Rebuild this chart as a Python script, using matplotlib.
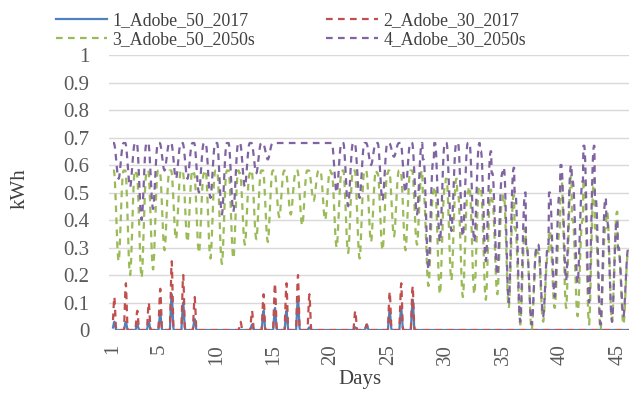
import numpy as np
import matplotlib
matplotlib.use('Agg')
import matplotlib.pyplot as plt

plt.rcParams['font.family'] = ['Liberation Serif', 'DejaVu Serif']

# daily levels read per day (45 days, hourly values built from these)
days = np.arange(1, 46)

# 2017 cases: daily heating peak (kWh), zero outside the morning spike
peak_50_2017 = [0.03, 0.03, 0.02, 0.03, 0.06, 0.13, 0.10, 0.04, 0, 0,
                0, 0, 0.02, 0.07, 0.08, 0.07, 0.12, 0.01, 0, 0,
                0, 0.01, 0.02, 0, 0.07, 0.08, 0.11, 0, 0, 0,
                0, 0, 0, 0, 0, 0, 0, 0, 0, 0,
                0, 0, 0, 0, 0]
peak_30_2017 = [0.12, 0.17, 0.07, 0.10, 0.15, 0.25, 0.20, 0.12, 0, 0,
                0, 0.03, 0.07, 0.13, 0.17, 0.17, 0.20, 0.13, 0, 0,
                0, 0.07, 0.02, 0, 0.14, 0.17, 0.16, 0, 0, 0,
                0, 0, 0, 0, 0, 0, 0, 0, 0, 0,
                0, 0, 0, 0, 0]

# 2050s cases: daily max / min (kWh)
max_50_2050 = [0.58, 0.58, 0.57, 0.58, 0.58, 0.58, 0.58, 0.57, 0.58, 0.58,
               0.58, 0.57, 0.58, 0.58, 0.58, 0.57, 0.58, 0.58, 0.58, 0.57,
               0.58, 0.58, 0.58, 0.57, 0.58, 0.58, 0.58, 0.50, 0.52, 0.55,
               0.50, 0.52, 0.51, 0.47, 0.49, 0.37, 0.30, 0.28, 0.36, 0.56,
               0.40, 0.55, 0.37, 0.43, 0.29]
min_50_2050 = [0.25, 0.20, 0.19, 0.22, 0.29, 0.33, 0.32, 0.28, 0.26, 0.24,
               0.26, 0.31, 0.33, 0.32, 0.41, 0.42, 0.38, 0.47, 0.40, 0.30,
               0.28, 0.26, 0.32, 0.29, 0.34, 0.29, 0.31, 0.16, 0.13, 0.18,
               0.12, 0.13, 0.11, 0.13, 0.08, 0.02, 0.00, 0.03, 0.08, 0.08,
               0.05, 0.02, 0.00, 0.03, 0.02]
max_30_2050 = [0.68] * 27 + [0.62, 0.68, 0.68, 0.68, 0.68,
               0.65, 0.57, 0.59, 0.50, 0.30, 0.31, 0.50, 0.60,
               0.54, 0.67, 0.48, 0.40, 0.30]
min_30_2050 = [0.55, 0.52, 0.40, 0.44, 0.58, 0.55, 0.55, 0.50, 0.48, 0.42,
               0.43, 0.52, 0.57, 0.62, 0.68, 0.68, 0.68, 0.68, 0.68, 0.50,
               0.45, 0.48, 0.60, 0.47, 0.63, 0.50, 0.42, 0.22, 0.32, 0.36,
               0.34, 0.32, 0.25, 0.20, 0.10, 0.03, 0.02, 0.05, 0.12, 0.18,
               0.17, 0.10, 0.02, 0.03, 0.05]

# typical hourly profiles (fraction of the daily range)
day_profile = [1, 1, 1, 0.96, 0.88, 0.76, 0.62, 0.47, 0.32, 0.18, 0.08, 0.02,
               0, 0.05, 0.15, 0.28, 0.43, 0.58, 0.72, 0.84, 0.93, 0.98, 1, 1]
spike_profile = [0.3, 0.6, 0.9, 1.0, 0.75, 0.4, 0.1, 0, 0, 0, 0, 0,
                 0, 0, 0, 0, 0, 0, 0, 0, 0, 0, 0, 0]

labels = ['1_Adobe_50_2017', '2_Adobe_30_2017', '3_Adobe_50_2050s', '4_Adobe_30_2050s']
colors = ['#4f81bd', '#c0504d', '#9bbb59', '#8064a2']


def hourly(lo, hi, prof):
    lo = np.repeat(np.asarray(lo, float), 24)
    hi = np.repeat(np.asarray(hi, float), 24)
    p = np.tile(prof, len(days))
    return lo + (hi - lo) * p


t = 1 + np.arange(len(days) * 24) / 24.0
zeros = [0] * len(days)
series = [hourly(zeros, peak_50_2017, spike_profile),
          hourly(zeros, peak_30_2017, spike_profile),
          hourly(min_50_2050, max_50_2050, day_profile),
          hourly(min_30_2050, max_30_2050, day_profile)]

fig = plt.figure(figsize=(6.3, 3.94), dpi=100)
ax = fig.add_axes([0.173, 0.1624, 0.825, 0.698])

lines = []
for i, (y, c, lab) in enumerate(zip(series, colors, labels)):
    if i == 0:
        ln, = ax.plot(t, y, color=c, lw=1.6, label=lab)
    else:
        ln, = ax.plot(t, y, color=c, lw=1.6, dashes=(3, 2.4), label=lab)
    lines.append(ln)

ax.set_ylim(0, 1)
ax.set_xlim(0.65, 45.95)
ax.set_yticks(np.arange(0, 1.01, 0.1))
ax.set_yticklabels(['0'] + ['%.1f' % v for v in np.arange(0.1, 0.95, 0.1)] + ['1'])
ax.set_xticks([1, 5, 10, 15, 20, 25, 30, 35, 40, 45])
ax.tick_params(axis='both', length=0, labelsize=15, colors='#595959')
ax.tick_params(axis='y', pad=14)
ax.tick_params(axis='x', labelrotation=90, pad=10)
ax.grid(axis='y', color='#d9d9d9', lw=1)
ax.set_axisbelow(True)
for s in ax.spines.values():
    s.set_visible(False)

fig.text(0.032, 0.52, 'kWh', rotation=90, fontsize=15, color='#404040',
         ha='center', va='center')
fig.text(0.572, 0.038, 'Days', fontsize=15, color='#404040',
         ha='center', va='center')

# row-wise legend order: 1 2 / 3 4
order = [0, 2, 1, 3]
fig.legend([lines[k] for k in order], [labels[k] for k in order],
           loc='upper left', bbox_to_anchor=(0.063, 1.01), ncol=2, frameon=False,
           fontsize=12.8, handlelength=2.9, handletextpad=0.3, columnspacing=4.0,
           labelspacing=0.1, labelcolor='#404040')

plt.savefig('out.png', dpi=100)
